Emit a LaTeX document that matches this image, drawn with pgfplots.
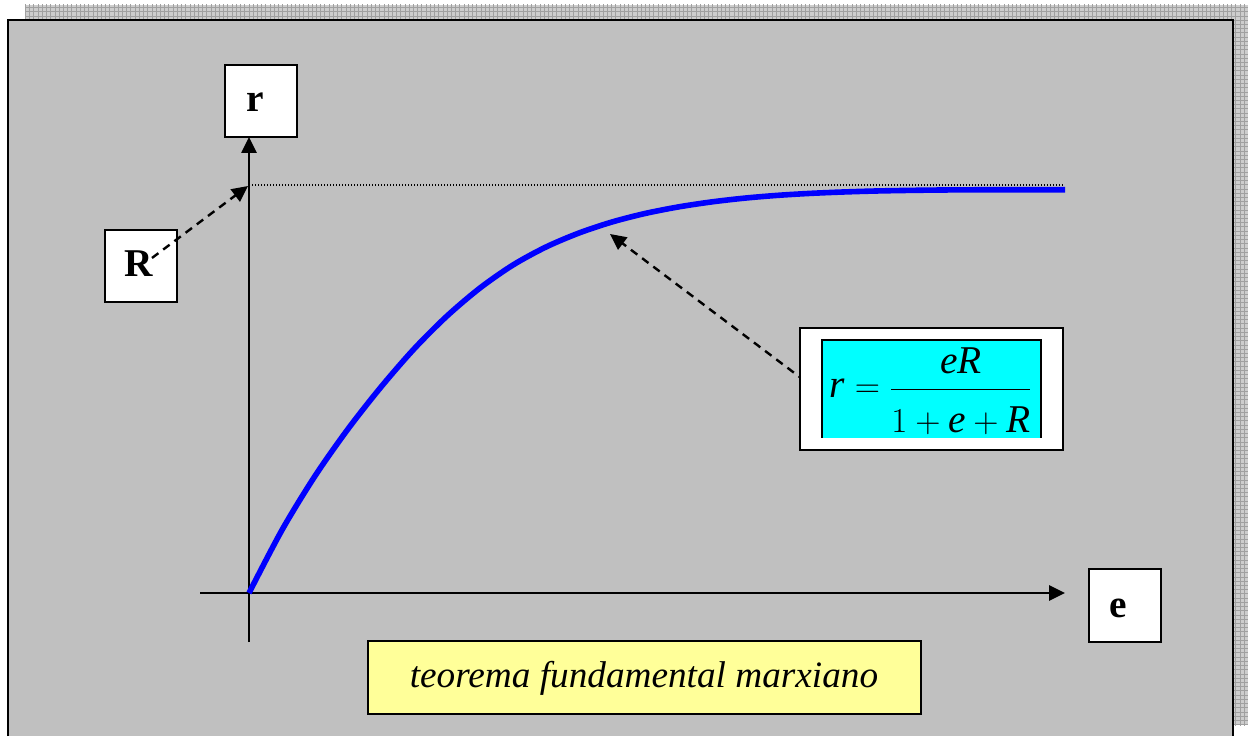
\documentclass[border=0pt]{standalone}
\usepackage{fontspec}
\setmainfont{Liberation Serif}
\usepackage{pgfplots}
\pgfplotsset{compat=1.18}
\usetikzlibrary{patterns,arrows.meta}
\definecolor{bg}{RGB}{192,192,192}
\definecolor{shadow}{RGB}{205,205,205}
\definecolor{gridgray}{RGB}{160,160,160}
\definecolor{fcyan}{RGB}{0,255,255}
\definecolor{fyellow}{RGB}{255,255,153}
\definecolor{curveblue}{RGB}{0,0,255}

\begin{document}
\begin{tikzpicture}
\begin{axis}[
  width=31.2cm, height=18.4cm, scale only axis,
  xmin=0, xmax=1248, ymin=0, ymax=736, y dir=reverse,
  hide axis, clip=false,
]
% page background
\fill[white] (axis cs:0,0) rectangle (axis cs:1248,736);
% hatched shadow
\fill[shadow] (axis cs:25,5) rectangle (axis cs:1248,20);
\fill[shadow] (axis cs:1233,5) rectangle (axis cs:1248,725);
\fill[pattern=grid, pattern color=gridgray] (axis cs:25,5) rectangle (axis cs:1248,20);
\fill[pattern=grid, pattern color=gridgray] (axis cs:1233,20) rectangle (axis cs:1248,725);
% chart area
\fill[bg] (axis cs:8,20) rectangle (axis cs:1233,736);
\draw[line width=0.55mm] (axis cs:8,736) -- (axis cs:8,20) -- (axis cs:1233,20) -- (axis cs:1233,736);

% axes
\draw[line width=0.5mm, -{Triangle[length=4mm,width=3.8mm]}] (axis cs:200,593) -- (axis cs:1065,593);
\draw[line width=0.5mm, -{Triangle[length=4mm,width=3.8mm]}] (axis cs:249,642) -- (axis cs:249,137);

% asymptote R
\draw[line width=0.3mm, dash pattern=on 0.25mm off 0.5mm] (axis cs:249,185) -- (axis cs:1063,185);

% curve
\addplot[curveblue, line width=1.4mm, smooth] coordinates {
 (249,593) (282,530) (315,476) (348,429) (381,387) (414,349) (447,316)
 (480,288) (513,265) (546,247) (579,233) (612,222) (645,213.5) (678,207)
 (711,202) (744,198.2) (777,195.4) (810,193.4) (843,192) (876,191)
 (909,190.4) (942,190) (975,189.8) (1008,189.8) (1065,189.8)
};

% label boxes
\filldraw[fill=white, line width=0.5mm] (axis cs:225,65) rectangle (axis cs:297,137);
\node[anchor=base, font=\fontsize{28}{34}\selectfont\bfseries] at (axis cs:255,112) {r};
\filldraw[fill=white, line width=0.5mm] (axis cs:105,230) rectangle (axis cs:177,302);
\node[anchor=base, font=\fontsize{28}{34}\selectfont\bfseries] at (axis cs:139,277) {R};
\filldraw[fill=white, line width=0.5mm] (axis cs:1089,569) rectangle (axis cs:1161,642);
\node[anchor=base, font=\fontsize{28}{34}\selectfont\bfseries] at (axis cs:1118,617) {e};

% dashed arrows
\draw[line width=0.6mm, dash pattern=on 2mm off 1.5mm, -{Triangle[length=4mm,width=3.8mm]}] (axis cs:152,258) -- (axis cs:248,186);
\draw[line width=0.6mm, dash pattern=on 2mm off 1.5mm, -{Triangle[length=4mm,width=3.8mm]}] (axis cs:805,381) -- (axis cs:610,234);

% formula box
\filldraw[fill=white, line width=0.5mm] (axis cs:800,328) rectangle (axis cs:1063,450);
\fill[fcyan] (axis cs:822,340) rectangle (axis cs:1041,438);
\draw[line width=0.5mm] (axis cs:822,438) -- (axis cs:822,340) -- (axis cs:1041,340) -- (axis cs:1041,438);
\node[font=\fontsize{28}{34}\selectfont] at (axis cs:931,391) {$\textit{r} = {\displaystyle\frac{\textit{eR}\rule[-0.35em]{0pt}{0.35em}}{\rule{0pt}{1.05em}1+\textit{e}+\textit{R}}}$};

% title box
\filldraw[fill=fyellow, line width=0.5mm] (axis cs:368,641) rectangle (axis cs:921,714);
\node[font=\fontsize{26.5}{32}\selectfont\itshape] at (axis cs:644,678) {teorema fundamental marxiano};
\end{axis}
\end{tikzpicture}
\end{document}
